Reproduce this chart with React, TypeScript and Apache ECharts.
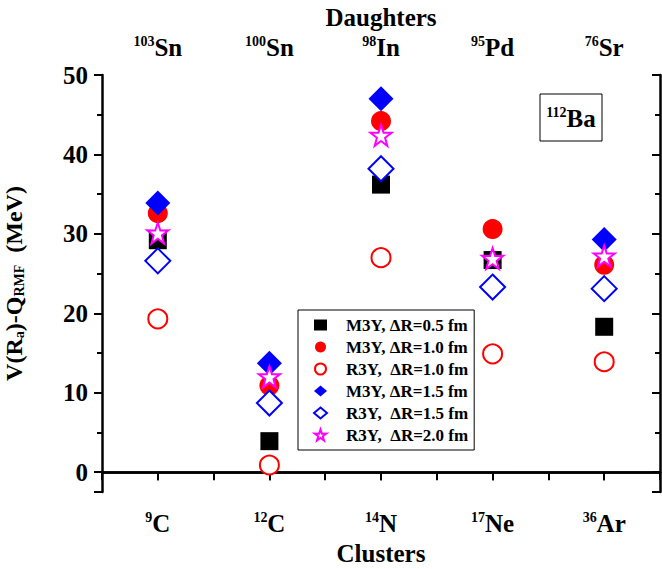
import React, { useEffect, useRef } from "react";
import * as echarts from "echarts";

const clusterMass = ["9", "12", "14", "17", "36"];
const clusterElem = ["C", "C", "N", "Ne", "Ar"];
const daughterMass = ["103", "100", "98", "95", "76"];
const daughterElem = ["Sn", "Sn", "In", "Pd", "Sr"];

const seriesNames = [
  "M3Y, \u0394R=0.5 fm",
  "M3Y, \u0394R=1.0 fm",
  "R3Y,  \u0394R=1.0 fm",
  "M3Y, \u0394R=1.5 fm",
  "R3Y,  \u0394R=1.5 fm",
  "R3Y,  \u0394R=2.0 fm",
];
const m3y05 = [29.2, 3.9, 36.2, 26.7, 18.3];
const m3y10 = [32.6, 10.9, 44.2, 30.6, 26.1];
const r3y10 = [19.3, 0.9, 27.0, 14.9, 13.9];
const m3y15 = [33.9, 13.7, 47.0, null, 29.3];
const r3y15 = [26.6, 8.7, 38.2, 23.3, 23.1];
const r3y20 = [30.1, 12.0, 42.4, 26.9, 27.2];

const FONT = '"Liberation Serif", "Times New Roman", serif';
const STAR =
  "path://M50,0 L61.8,35.1 L98.9,34.5 L69.1,56.7 L79.4,92.2 L50,71 L20.6,92.2 L30.9,56.7 L1.1,34.5 L38.2,35.1 Z";

const clusterCats = clusterMass.map((m, i) => m + clusterElem[i]);
const daughterCats = daughterMass.map((m, i) => m + daughterElem[i]);

const supRich = {
  sup: { fontSize: 14, fontWeight: "bold", fontFamily: FONT, color: "#000", verticalAlign: "top", lineHeight: 14 },
  main: { fontSize: 25, fontWeight: "bold", fontFamily: FONT, color: "#000", verticalAlign: "middle", lineHeight: 26 },
};
const titleFont = `bold 25px ${FONT}`;

export default function App() {
  const ref = useRef<HTMLDivElement>(null);
  useEffect(() => {
    if (!ref.current) return;
    const chart = echarts.init(ref.current, null, { renderer: "svg" });
    const axisLine = { show: true, lineStyle: { color: "#000", width: 2.5 } };
    const baseX = {
      type: "category",
      gridIndex: 0,
      boundaryGap: true,
      splitLine: { show: false },
    };
    const yBase = {
      type: "value",
      min: -2.5,
      max: 50,
      splitLine: { show: false },
    };
    const mk = (name: string, data: any[], symbol: string, size: number, itemStyle: any) => ({
      type: "scatter",
      name,
      data,
      symbol,
      symbolSize: size,
      itemStyle: { opacity: 1, ...itemStyle },
      xAxisIndex: 0,
      yAxisIndex: 0,
    });
    chart.setOption({
      animation: false,
      backgroundColor: "#fff",
      grid: { left: 102, right: 2, top: 75, bottom: 77, outerBoundsMode: "none", containLabel: false },
      xAxis: [
        {
          ...baseX,
          position: "bottom",
          data: clusterCats,
          axisLine,
          axisTick: { show: true, alignWithLabel: true, length: 8, lineStyle: { width: 2, color: "#000" } },
          axisLabel: {
            interval: 0,
            margin: 18,
            formatter: (_v: string, i: number) => `{sup|${clusterMass[i]}}{main|${clusterElem[i]}}`,
            rich: supRich,
          },
        },
        {
          ...baseX,
          position: "bottom",
          data: clusterCats,
          axisLine: { show: false },
          axisTick: { show: true, length: 5, lineStyle: { width: 2, color: "#000" } },
          axisLabel: { show: false },
        },
        {
          ...baseX,
          position: "top",
          data: daughterCats,
          axisLine,
          axisTick: { show: true, inside: true, alignWithLabel: true, length: 8, lineStyle: { width: 2, color: "#000" } },
          axisLabel: {
            interval: 0,
            margin: 15,
            formatter: (_v: string, i: number) => `{sup|${daughterMass[i]}}{main|${daughterElem[i]}}`,
            rich: supRich,
          },
        },
        {
          ...baseX,
          position: "top",
          data: daughterCats,
          axisLine: { show: false },
          axisTick: { show: true, inside: true, length: 8, lineStyle: { width: 2, color: "#000" } },
          axisLabel: { show: false },
        },
      ],
      yAxis: [
        {
          ...yBase,
          position: "left",
          splitNumber: 5,
          axisLine,
          axisTick: { show: true, length: 8, lineStyle: { width: 2, color: "#000" } },
          axisLabel: {
            margin: 14,
            fontSize: 25,
            fontWeight: "bold",
            fontFamily: FONT,
            color: "#000",
            formatter: (v: number) => (v % 10 === 0 ? String(v) : ""),
          },
          name: "{m|V(R}{s|a}{m|)-Q}{s|RMF}{m|  (MeV)}",
          nameLocation: "middle",
          nameRotate: 90,
          nameGap: 76,
          nameTextStyle: {
            rich: {
              m: { fontSize: 24, fontWeight: "bold", fontFamily: FONT, color: "#000", lineHeight: 24, verticalAlign: "middle" },
              s: { fontSize: 14, fontWeight: "bold", fontFamily: FONT, color: "#000", lineHeight: 4, verticalAlign: "bottom" },
            },
          },
        },
        {
          ...yBase,
          position: "left",
          splitNumber: 10,
          axisLine: { show: false },
          axisTick: { show: true, length: 5, lineStyle: { width: 2, color: "#000" } },
          axisLabel: { show: false },
        },
        {
          ...yBase,
          position: "right",
          splitNumber: 5,
          axisLine,
          axisTick: { show: true, inside: true, length: 8, lineStyle: { width: 2, color: "#000" } },
          axisLabel: { show: false },
        },
        {
          ...yBase,
          position: "right",
          splitNumber: 10,
          axisLine: { show: false },
          axisTick: { show: true, inside: true, length: 5, lineStyle: { width: 2, color: "#000" } },
          axisLabel: { show: false },
        },
      ],
      legend: {
        orient: "vertical",
        left: 298,
        top: 310,
        itemWidth: 13,
        itemHeight: 11,
        itemGap: 4,
        padding: [6, 6, 6, 15],
        borderColor: "#000",
        borderWidth: 1,
        backgroundColor: "#fff",
        textStyle: {
          fontSize: 17,
          fontWeight: "bold",
          fontFamily: FONT,
          color: "#000",
          lineHeight: 18,
          padding: [0, 0, 0, 14],
        },
        data: seriesNames,
      },
      graphic: [
        {
          type: "text",
          x: 381,
          y: 17,
          style: { text: "Daughters", font: titleFont, fill: "#000", align: "center", verticalAlign: "middle" },
        },
        {
          type: "text",
          x: 381,
          y: 553,
          style: { text: "Clusters", font: titleFont, fill: "#000", align: "center", verticalAlign: "middle" },
        },
        {
          type: "rect",
          shape: { x: 540, y: 94, width: 62, height: 47 },
          style: { fill: "#fff", stroke: "#000", lineWidth: 1 },
          z: 10,
        },
        {
          type: "text",
          x: 571,
          y: 118,
          z: 11,
          style: {
            text: "{sup|112}{main|Ba}",
            rich: supRich,
            align: "center",
            verticalAlign: "middle",
          },
        },
      ],
      series: [
        mk(seriesNames[0], m3y05, "rect", 18, { color: "#000" }),
        mk(seriesNames[1], m3y10, "circle", 20, { color: "#ff0000" }),
        mk(seriesNames[2], r3y10, "circle", 19, { color: "#fff", borderColor: "#ff0000", borderWidth: 2 }),
        mk(seriesNames[3], m3y15, "diamond", 25, { color: "#0000ff" }),
        mk(seriesNames[4], r3y15, "diamond", 25, { color: "#fff", borderColor: "#0000ff", borderWidth: 2 }),
        mk(seriesNames[5], r3y20, STAR, 21, { color: "#fff", borderColor: "#ff00ff", borderWidth: 2 }),
      ],
    });
    return () => chart.dispose();
  }, []);
  return (
    <div
      ref={ref}
      style={{ position: "fixed", left: 0, top: 0, width: 662, height: 569, background: "#fff" }}
    />
  );
}
